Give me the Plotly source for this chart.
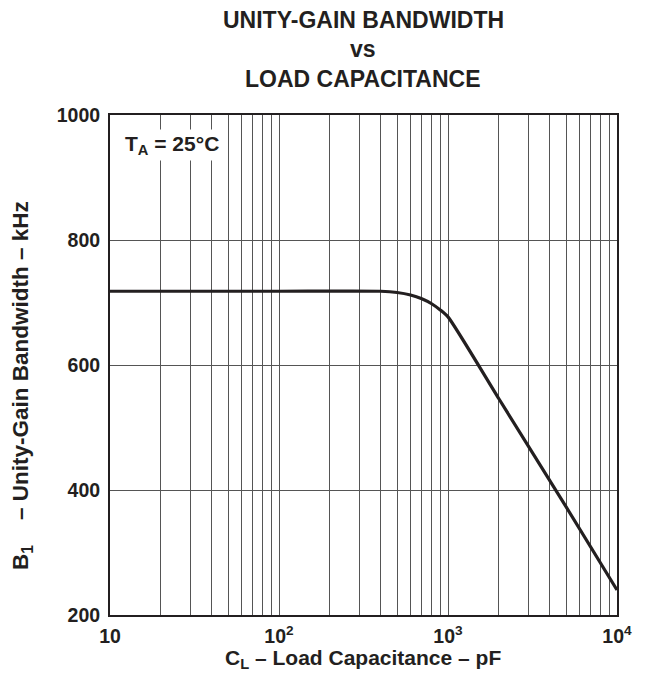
import plotly.graph_objects as go

# Data
cap_pf = [10, 100, 400, 500, 600, 700, 800, 900, 1000, 2000, 5000, 10000]
bw_khz = [718, 718, 718, 716, 712, 706, 698, 688, 677, 546, 373, 240]

x_tick_vals = [m * 10 ** e for e in (1, 2, 3) for m in range(1, 10)] + [10000]
x_tick_text = {
    10: "10",
    100: "10<sup>2</sup>",
    1000: "10<sup>3</sup>",
    10000: "10<sup>4</sup>",
}
y_tick_vals = [200, 400, 600, 800, 1000]
title_lines = ["UNITY-GAIN BANDWIDTH", "vs", "LOAD CAPACITANCE"]
x_title = "C<sub>L</sub> – Load Capacitance – pF"
y_title = "B<sub>1</sub>    – Unity-Gain Bandwidth – kHz"
ta_text = "T<sub>A</sub> = 25°C"

FONT = "Liberation Sans, Arial, sans-serif"
INK = "#231f20"

# page body has an 8px margin; figure coordinates are compensated for that
L, T, W, H = 102, 107, 507, 500
FIG_W, FIG_H = 656, 675

def px(fx):
    return (fx - L) / W

def py(fy):
    return (T + H - fy) / H

fig = go.Figure()
fig.add_trace(go.Scatter(
    x=cap_pf, y=bw_khz, mode="lines",
    line=dict(color=INK, width=3.2, shape="spline", smoothing=0.6),
    hoverinfo="skip", showlegend=False,
))

fig.update_layout(
    width=FIG_W, height=FIG_H,
    margin=dict(l=L, r=FIG_W - L - W, t=T, b=FIG_H - T - H, autoexpand=False),
    paper_bgcolor="white", plot_bgcolor="white",
    font=dict(family=FONT, color=INK, size=17, weight="bold"),
    xaxis=dict(
        type="log", range=[1, 4],
        tickmode="array", tickvals=x_tick_vals,
        ticktext=[x_tick_text.get(v, "") for v in x_tick_vals],
        ticks="", showgrid=True, gridcolor="#555555", gridwidth=1,
        showline=True, linecolor=INK, linewidth=2, mirror=True,
        zeroline=False, ticklabelstandoff=3,
        tickfont=dict(size=19.5, weight="bold"),
    ),
    yaxis=dict(
        range=[200, 1000], tickmode="array", tickvals=y_tick_vals,
        ticks="", showgrid=True, gridcolor="#555555", gridwidth=1,
        showline=True, linecolor=INK, linewidth=2, mirror=True,
        zeroline=False, ticklabelstandoff=4,
        tickfont=dict(size=19.5, weight="bold"),
    ),
)

# Title lines
for text, fy in zip(title_lines, [12, 41, 71]):
    fig.add_annotation(
        xref="paper", yref="paper", x=px(355), y=py(fy),
        xanchor="center", yanchor="middle", text=text, showarrow=False,
        font=dict(family=FONT, size=23, weight="bold", color=INK),
    )

# Axis titles
fig.add_annotation(
    xref="paper", yref="paper", x=px(355), y=py(651),
    xanchor="center", yanchor="middle", text=x_title, showarrow=False,
    font=dict(family=FONT, size=21, weight="bold", color=INK),
)
fig.add_annotation(
    xref="paper", yref="paper", x=px(14), y=py(378),
    xanchor="center", yanchor="middle", text=y_title, showarrow=False,
    textangle=-90,
    font=dict(family=FONT, size=22.5, weight="bold", color=INK),
)

# Temperature label
fig.add_annotation(
    xref="paper", yref="paper", x=px(114), y=py(137),
    xanchor="left", yanchor="middle", text=ta_text, showarrow=False,
    bgcolor="white", borderpad=2,
    font=dict(family=FONT, size=21, weight="bold", color=INK),
)

fig.write_html("out.html")
